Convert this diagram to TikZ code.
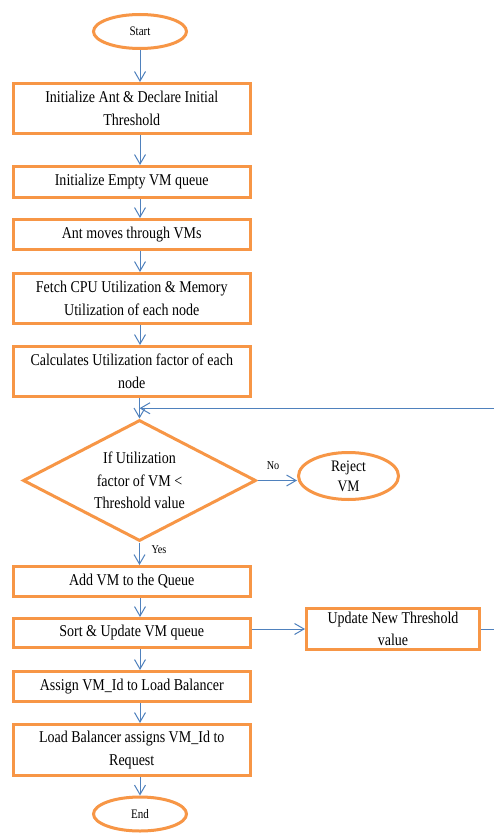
\documentclass[tikz,border=0pt]{standalone}
\usepackage{fontspec}
\setmainfont[FakeStretch=0.85]{Liberation Serif}
\usetikzlibrary{shapes.geometric,arrows.meta,calc}
\definecolor{boxorange}{RGB}{247,150,70}
\definecolor{linkblue}{RGB}{79,129,189}
\newcommand{\bodysize}{\fontsize{16.5}{22.5}\selectfont}
\newcommand{\termsize}{\fontsize{13}{15}\selectfont}
\newcommand{\tagsize}{\fontsize{12}{14}\selectfont}

\begin{document}
\begin{tikzpicture}[x=1pt,y=-1pt,
  proc/.style={draw=boxorange, line width=3pt, rectangle, minimum width=236.5pt,
               inner sep=0pt, align=center, font=\bodysize},
  term/.style={draw=boxorange, line width=3pt, ellipse, minimum width=93pt,
               minimum height=34pt, inner sep=0pt, align=center, font=\termsize},
  decision/.style={draw=boxorange, line width=3pt, diamond, aspect=1.93,
               minimum width=233pt, minimum height=121pt, inner sep=0pt,
               align=center, font=\bodysize},
  flow/.style={draw=linkblue, line width=1pt,
               -{Straight Barb[length=9.5pt,width=11pt]}},
  tag/.style={font=\tagsize, inner sep=0pt}]

\useasboundingbox (0,0) rectangle (494,834);
\clip (0,0) rectangle (494,834);
\fill[white] (0,0) rectangle (494,834);

% terminals
\node[term] (start) at (140,31.5) {Start};
\node[term] (end) at (140,814) {End};

% process column
\node[proc, minimum height=50pt] (b1) at (131.75,108.5) {Initialize Ant \& Declare Initial\\Threshold};
\node[proc, minimum height=31pt] (b2) at (131.75,182) {Initialize Empty VM queue};
\node[proc, minimum height=30pt] (b3) at (131.75,234.5) {Ant moves through VMs};
\node[proc, minimum height=50pt] (b4) at (131.75,298.5) {Fetch CPU Utilization \& Memory\\Utilization of each node};
\node[proc, minimum height=50pt] (b5) at (131.75,371.5) {Calculates Utilization factor of each\\node};

\node[decision] (dec) at (139.5,480.5) {If Utilization\\factor of VM <\\Threshold value};
\node[term, minimum width=100pt, minimum height=47pt,
      font=\fontsize{16}{20}\selectfont] (rej) at (348.5,476) {Reject\\VM};

\node[proc, minimum height=30pt] (b6) at (131.75,581.5) {Add VM to the Queue};
\node[proc, minimum height=29pt] (b7) at (131.75,633) {Sort \& Update VM queue};
\node[proc, minimum height=30pt] (b8) at (131.75,686.5) {Assign VM\_Id to Load Balancer};
\node[proc, minimum height=51pt] (b9) at (131.75,750) {Load Balancer assigns VM\_Id to\\Request};

\node[proc, minimum width=173pt, minimum height=41pt] (upd) at (393,629) {Update New Threshold\\value};

% branch labels
\node[tag] (no) at (273,466) {No};
\node[tag] (yes) at (159,550) {Yes};

% helper points for the feedback loop
\coordinate (joint) at ($(b5.south -| dec.north)!0.5!(dec.north)$);
\coordinate (rc) at (500,629);

% connectors
\draw[flow] (start.south) -- (start.south |- b1.north);
\draw[flow] (b1.south -| start) -- (b2.north -| start);
\draw[flow] (b2.south -| start) -- (b3.north -| start);
\draw[flow] (b3.south -| start) -- (b4.north -| start);
\draw[flow] (b4.south -| start) -- (b5.north -| start);
\draw[flow] (b5.south -| dec.north) -- (dec.north);
\draw[flow] (dec.east) -- (dec.east -| rej.west);
\draw[flow] (dec.south) -- (dec.south |- b6.north);
\draw[flow] (b6.south -| start) -- (b7.north -| start);
\draw[flow] (b7.south -| start) -- (b8.north -| start);
\draw[flow] (b8.south -| start) -- (b9.north -| start);
\draw[flow] (b9.south -| start) -- (end.north);
\draw[flow] (b7.east |- upd.west) -- (upd.west);
\draw[flow] (upd.east) -- (upd.east -| rc) |- (joint);
\end{tikzpicture}
\end{document}
